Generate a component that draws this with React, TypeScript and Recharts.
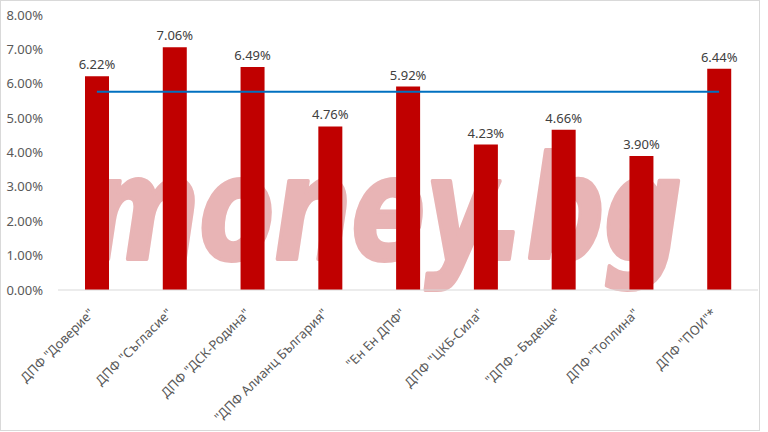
import React from "react"
import {
  ComposedChart,
  Bar,
  Line,
  XAxis,
  YAxis,
  LabelList,
} from "recharts"

const funds = [
  'ДПФ "Доверие"',
  'ДПФ "Съгласие"',
  'ДПФ "ДСК-Родина"',
  '"ДПФ Алианц България"',
  '"Ен Ен ДПФ"',
  'ДПФ "ЦКБ-Сила"',
  '"ДПФ - Бъдеще"',
  'ДПФ "Топлина"',
  'ДПФ "ПОИ"*',
]

const returns = [6.22, 7.06, 6.49, 4.76, 5.92, 4.23, 4.66, 3.9, 6.44]

// blue average line, same value across all funds
const average = [5.77, 5.77, 5.77, 5.77, 5.77, 5.77, 5.77, 5.77, 5.77]

const yTicks = [0, 1, 2, 3, 4, 5, 6, 7, 8]

const FONT = '"Noto Sans", "Liberation Sans", sans-serif'

const pct = (v: number) => `${Number(v).toFixed(2)}%`

function FundTick({ x, y, payload }: any) {
  return (
    <g transform={`translate(${x - 5},${y + 13})`}>
      <text
        transform="rotate(-45)"
        textAnchor="end"
        dy="0.35em"
        fill="#595959"
        fontSize={13}
        fontFamily={FONT}
      >
        {payload.value}
      </text>
    </g>
  )
}

export default function App() {
  const data = funds.map((name, i) => ({
    name,
    value: returns[i],
    avg: average[i],
  }))

  return (
    <div
      style={{
        position: "fixed",
        left: 0,
        top: 0,
        width: 768,
        height: 432,
        background: "#fff",
        overflow: "hidden",
      }}
    >
      <div
        style={{
          position: "absolute",
          left: 0,
          top: 0,
          width: 758,
          height: 429,
          border: "1px solid #D9D9D9",
        }}
      />
      <svg
        width={768}
        height={432}
        style={{ position: "absolute", left: 0, top: 0 }}
      >
        <text
          x={86}
          y={259}
          fontSize={142}
          fontWeight={700}
          fontStyle="italic"
          fontFamily='"Liberation Sans Narrow", "DejaVu Sans Condensed", "Liberation Sans", sans-serif'
          fill="#E8B4B5"
          stroke="#E8B4B5"
          strokeWidth={4}
          strokeLinejoin="round"
          textLength={596}
          lengthAdjust="spacingAndGlyphs"
        >
          money.bg
        </text>
      </svg>
      <div style={{ position: "relative" }}>
        <ComposedChart
          width={768}
          height={432}
          data={data}
          margin={{ top: 15, right: 10, bottom: 2, left: 0 }}
        >
          <XAxis
            dataKey="name"
            interval={0}
            tickLine={false}
            axisLine={{ stroke: "#D9D9D9" }}
            height={140}
            tick={<FundTick />}
          />
          <YAxis
            domain={[0, 8]}
            ticks={yTicks}
            width={58}
            tickLine={false}
            axisLine={false}
            tickSize={0}
            tickMargin={15}
            tickFormatter={pct}
            tick={{ fontSize: 13, fill: "#595959", fontFamily: FONT }}
          />
          <Bar dataKey="value" fill="#C00000" barSize={24} isAnimationActive={false}>
            <LabelList
              dataKey="value"
              position="top"
              offset={7}
              formatter={pct}
              fill="#404040"
              fontSize={13}
              fontFamily={FONT}
            />
          </Bar>
          <Line
            dataKey="avg"
            stroke="#0070C0"
            strokeWidth={2}
            dot={false}
            activeDot={false}
            isAnimationActive={false}
          />
        </ComposedChart>
      </div>
    </div>
  )
}
